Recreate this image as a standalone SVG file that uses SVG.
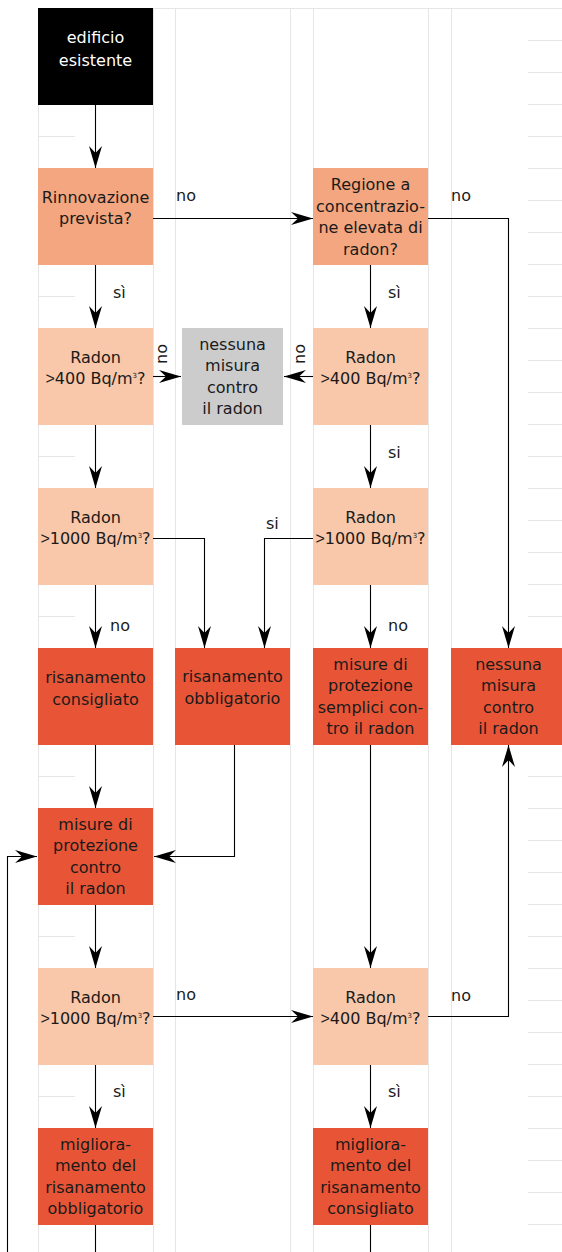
<svg xmlns="http://www.w3.org/2000/svg" width="562" height="1252" viewBox="0 0 562 1252">
<style>
.grid{stroke:#e6e6e6;stroke-width:1;fill:none}
.t{font-family:"DejaVu Sans",sans-serif;font-size:16px;fill:#1a1a1a;text-anchor:middle}
.w{fill:#ffffff}
.lbl{font-family:"DejaVu Sans",sans-serif;font-size:16px;fill:#1a1a1a}
.c{stroke:#000;stroke-width:1.1;fill:none}
.a{marker-end:url(#ah)}
.gt{font-family:"Liberation Sans",Arial,sans-serif}
.sup{font-size:7px}
.q1{fill:#F3A680}.q2{fill:#F9C7A9}.act{fill:#E85536}.grey{fill:#CCCCCC}.start{fill:#000000}
</style>
<defs>
<marker id="ah" viewBox="-23 -7 24 14" refX="0" refY="0" markerWidth="24" markerHeight="14" markerUnits="userSpaceOnUse" orient="auto">
<path d="M0,0 L-22,-6.5 L-15,0 L-22,6.5 Z" fill="#000"/>
</marker>
</defs>
<g id="grid" class="grid">
<path d="M38.5,8V1252M153.5,8V1252M175.5,8V1252M290.5,8V1252M313.5,8V1252M428.5,8V1252M451.5,8V1252M38,8.5H562"/>
<path d="M38,136.5H75M38,296.5H75M38,456.5H75M38,616.5H75M38,776.5H75M38,936.5H75M38,1096.5H75"/>
<path d="M528,40.5H562M528,72.5H562M528,104.5H562M528,136.5H562M528,168.5H562M528,200.5H562M528,232.5H562M528,264.5H562M528,296.5H562M528,328.5H562M528,360.5H562M528,392.5H562M528,424.5H562M528,456.5H562M528,488.5H562M528,520.5H562M528,552.5H562M528,584.5H562M528,616.5H562M528,648.5H562M528,680.5H562M528,712.5H562M528,744.5H562M528,776.5H562M528,808.5H562M528,840.5H562M528,872.5H562M528,904.5H562M528,936.5H562M528,968.5H562M528,1000.5H562M528,1032.5H562M528,1064.5H562M528,1096.5H562M528,1128.5H562M528,1160.5H562M528,1192.5H562M528,1224.5H562"/>
</g>
<g id="connectors">
<path class="c a" d="M95.5,105V168"/>
<path class="c a" d="M153,218.5H313"/>
<path class="c a" d="M428,218.5H508.5V648"/>
<path class="c a" d="M95.5,265V328"/>
<path class="c a" d="M370.5,265V328"/>
<path class="c a" d="M153,376.5H181"/>
<path class="c a" d="M313,376.5H284"/>
<path class="c a" d="M95.5,425V488"/>
<path class="c a" d="M370.5,425V488"/>
<path class="c a" d="M153,538.5H204.5V648"/>
<path class="c a" d="M313,538.5H264.5V648"/>
<path class="c a" d="M95.5,585V648"/>
<path class="c a" d="M370.5,585V648"/>
<path class="c a" d="M95.5,745V808"/>
<path class="c a" d="M234.5,745V856.5H154"/>
<path class="c a" d="M370.5,745V968"/>
<path class="c a" d="M95.5,905V968"/>
<path class="c a" d="M153,1016.5H313"/>
<path class="c a" d="M428,1016.5H508.5V745"/>
<path class="c a" d="M95.5,1065V1128"/>
<path class="c a" d="M370.5,1065V1128"/>
<path class="c" d="M95.5,1225V1252"/>
<path class="c" d="M370.5,1225V1252"/>
<path class="c a" d="M7.5,1252V856.5H37"/>
<text class="lbl" x="176" y="201">no</text>
<text class="lbl" x="451" y="201">no</text>
<text class="lbl" x="113" y="298">sì</text>
<text class="lbl" x="388" y="298">sì</text>
<text class="t" transform="translate(167,354) rotate(-90)">no</text>
<text class="t" transform="translate(305,354) rotate(-90)">no</text>
<text class="lbl" x="388" y="458">si</text>
<text class="lbl" x="266" y="529">si</text>
<text class="lbl" x="110" y="631">no</text>
<text class="lbl" x="388" y="631">no</text>
<text class="lbl" x="176" y="1000">no</text>
<text class="lbl" x="451" y="1001">no</text>
<text class="lbl" x="113" y="1097">sì</text>
<text class="lbl" x="388" y="1097">sì</text>
</g>
<g id="n0"><rect class="start" x="38" y="8" width="115" height="97"/><text class="t w"><tspan x="95.5" y="43">edificio</tspan><tspan x="95.5" y="65.5">esistente</tspan></text></g>
<g id="n1"><rect class="q1" x="38" y="168" width="115" height="97"/><text class="t"><tspan x="95.5" y="202.5">Rinnovazione</tspan><tspan x="95.5" y="224">prevista?</tspan></text></g>
<g id="n2"><rect class="q1" x="313" y="168" width="115" height="97"/><text class="t"><tspan x="370.5" y="190">Regione a</tspan><tspan x="370.5" y="211.5">concentrazio-</tspan><tspan x="370.5" y="233">ne elevata di</tspan><tspan x="370.5" y="254.5">radon?</tspan></text></g>
<g id="n3"><rect class="q2" x="38" y="328" width="115" height="97"/><text class="t"><tspan x="95.5" y="362.5">Radon</tspan><tspan x="95.5" y="384"><tspan class="gt">&gt;</tspan>400 Bq/m<tspan class="sup" dy="-6">3</tspan><tspan dy="6">?</tspan></tspan></text></g>
<g id="n4"><rect class="grey" x="182" y="328" width="101" height="97"/><text class="t"><tspan x="232.5" y="349.5">nessuna</tspan><tspan x="232.5" y="371">misura</tspan><tspan x="232.5" y="392.5">contro</tspan><tspan x="232.5" y="414">il radon</tspan></text></g>
<g id="n5"><rect class="q2" x="313" y="328" width="115" height="97"/><text class="t"><tspan x="370.5" y="362.5">Radon</tspan><tspan x="370.5" y="384"><tspan class="gt">&gt;</tspan>400 Bq/m<tspan class="sup" dy="-6">3</tspan><tspan dy="6">?</tspan></tspan></text></g>
<g id="n6"><rect class="q2" x="38" y="488" width="115" height="97"/><text class="t"><tspan x="95.5" y="522.5">Radon</tspan><tspan x="95.5" y="544"><tspan class="gt">&gt;</tspan>1000 Bq/m<tspan class="sup" dy="-6">3</tspan><tspan dy="6">?</tspan></tspan></text></g>
<g id="n7"><rect class="q2" x="313" y="488" width="115" height="97"/><text class="t"><tspan x="370.5" y="522.5">Radon</tspan><tspan x="370.5" y="544"><tspan class="gt">&gt;</tspan>1000 Bq/m<tspan class="sup" dy="-6">3</tspan><tspan dy="6">?</tspan></tspan></text></g>
<g id="n8"><rect class="act" x="38" y="648" width="115" height="97"/><text class="t"><tspan x="95.5" y="683">risanamento</tspan><tspan x="95.5" y="705">consigliato</tspan></text></g>
<g id="n9"><rect class="act" x="175" y="648" width="115" height="97"/><text class="t"><tspan x="232.5" y="682">risanamento</tspan><tspan x="232.5" y="704">obbligatorio</tspan></text></g>
<g id="n10"><rect class="act" x="313" y="648" width="115" height="97"/><text class="t"><tspan x="370.5" y="669.5">misure di</tspan><tspan x="370.5" y="691">protezione</tspan><tspan x="370.5" y="712.5">semplici con-</tspan><tspan x="370.5" y="734">tro il radon</tspan></text></g>
<g id="n11"><rect class="act" x="451" y="648" width="115" height="97"/><text class="t"><tspan x="508.5" y="669.5">nessuna</tspan><tspan x="508.5" y="691">misura</tspan><tspan x="508.5" y="712.5">contro</tspan><tspan x="508.5" y="734">il radon</tspan></text></g>
<g id="n12"><rect class="act" x="38" y="808" width="115" height="97"/><text class="t"><tspan x="95.5" y="829.5">misure di</tspan><tspan x="95.5" y="851">protezione</tspan><tspan x="95.5" y="872.5">contro</tspan><tspan x="95.5" y="894">il radon</tspan></text></g>
<g id="n13"><rect class="q2" x="38" y="968" width="115" height="97"/><text class="t"><tspan x="95.5" y="1002.5">Radon</tspan><tspan x="95.5" y="1024"><tspan class="gt">&gt;</tspan>1000 Bq/m<tspan class="sup" dy="-6">3</tspan><tspan dy="6">?</tspan></tspan></text></g>
<g id="n14"><rect class="q2" x="313" y="968" width="115" height="97"/><text class="t"><tspan x="370.5" y="1002.5">Radon</tspan><tspan x="370.5" y="1024"><tspan class="gt">&gt;</tspan>400 Bq/m<tspan class="sup" dy="-6">3</tspan><tspan dy="6">?</tspan></tspan></text></g>
<g id="n15"><rect class="act" x="38" y="1128" width="115" height="97"/><text class="t"><tspan x="95.5" y="1149.5">migliora-</tspan><tspan x="95.5" y="1171">mento del</tspan><tspan x="95.5" y="1192.5">risanamento</tspan><tspan x="95.5" y="1214">obbligatorio</tspan></text></g>
<g id="n16"><rect class="act" x="313" y="1128" width="115" height="97"/><text class="t"><tspan x="370.5" y="1149.5">migliora-</tspan><tspan x="370.5" y="1171">mento del</tspan><tspan x="370.5" y="1192.5">risanamento</tspan><tspan x="370.5" y="1214">consigliato</tspan></text></g>
</svg>
